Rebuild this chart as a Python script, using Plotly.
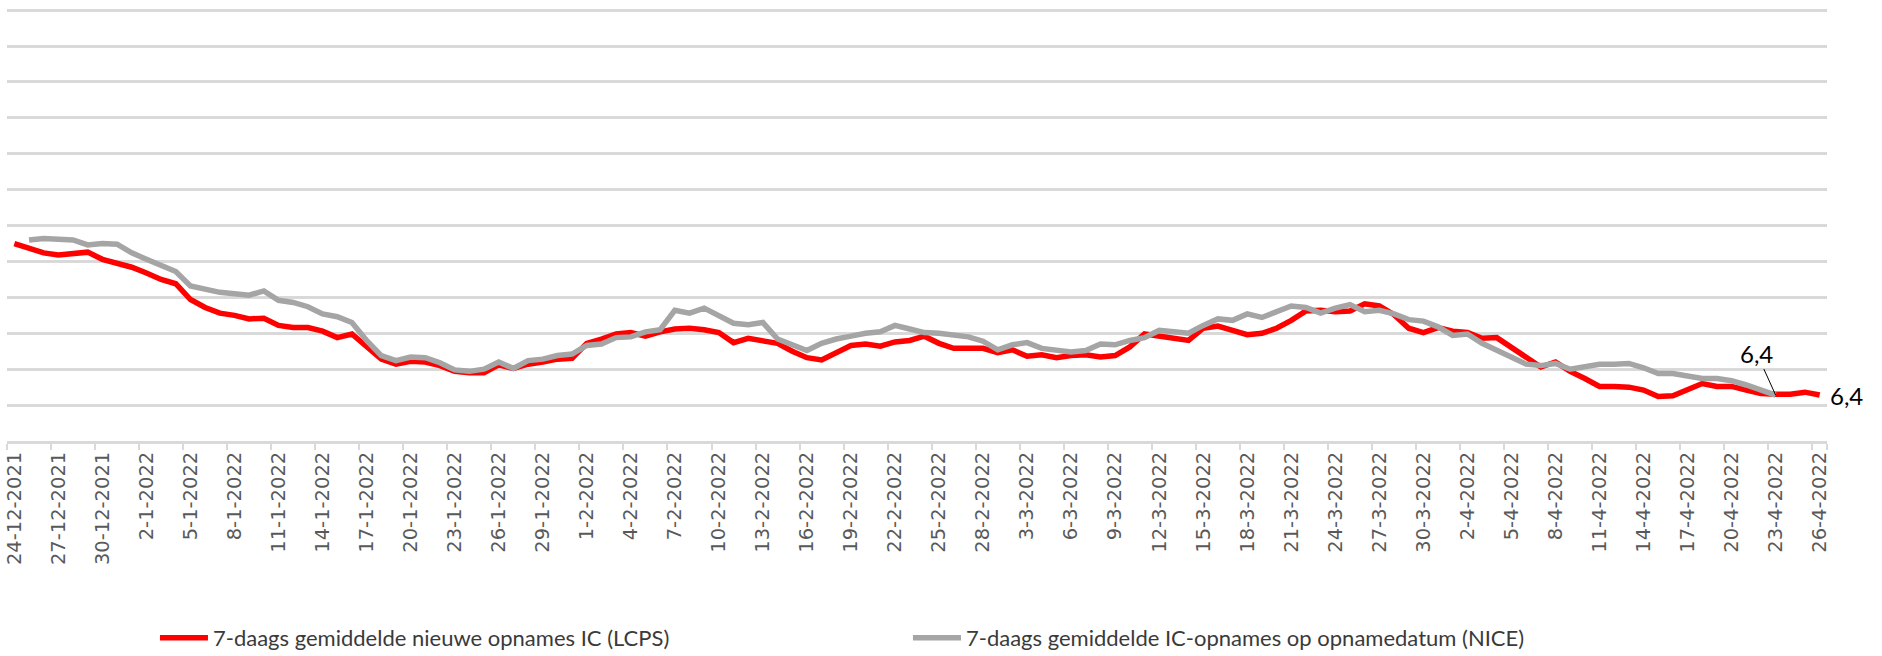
import pandas as pd
import plotly.graph_objects as go

# Categories: one per day, 24-12-2021 .. 26-4-2022
dates = pd.date_range("2021-12-24", "2022-04-26", freq="D")
day_labels = [f"{d.day}-{d.month}-{d.year}" for d in dates]
tick_labels = day_labels[::3]

# 7-daags gemiddelde nieuwe opnames IC (LCPS)
lcps = [
    27.5, 26.8, 26.2, 25.9, 26.1, 26.3, 25.3, 24.8, 24.2, 23.4,
    22.5, 21.9, 19.7, 18.6, 17.8, 17.5, 17.0, 17.1, 16.1, 15.8,
    15.8, 15.3, 14.4, 14.9, 13.2, 11.4, 10.7, 11.1, 11.0, 10.5,
    9.7, 9.5, 9.5, 10.6, 10.1, 10.7, 11.0, 11.4, 11.5, 13.6,
    14.2, 14.9, 15.1, 14.6, 15.2, 15.6, 15.7, 15.5, 15.1, 13.7,
    14.3, 14.0, 13.6, 12.5, 11.6, 11.3, 12.4, 13.3, 13.5, 13.2,
    13.8, 14.0, 14.6, 13.6, 12.9, 12.9, 12.9, 12.3, 12.7, 11.8,
    12.0, 11.6, 11.9, 12.0, 11.7, 11.9, 13.1, 14.9, 14.6, 14.4,
    14.0, 15.7, 16.0, 15.4, 14.8, 15.0, 15.7, 16.8, 18.1, 18.2,
    18.0, 18.1, 19.1, 18.8, 17.6, 15.7, 15.1, 15.8, 15.3, 15.1,
    14.3, 14.4, 13.0, 11.7, 10.3, 11.0, 9.7, 8.7, 7.6, 7.6,
    7.5, 7.1, 6.2, 6.3, 7.2, 8.0, 7.6, 7.6, 7.1, 6.6,
    6.5, 6.5, 6.8, 6.4,
]

# 7-daags gemiddelde IC-opnames op opnamedatum (NICE)
nice = [
    None, 28.0, 28.2, 28.1, 28.0, 27.3, 27.5, 27.4, 26.2, 25.3,
    24.5, 23.6, 21.6, 21.1, 20.7, 20.5, 20.3, 20.9, 19.6, 19.3,
    18.7, 17.7, 17.3, 16.5, 14.0, 11.9, 11.2, 11.7, 11.6, 10.9,
    9.9, 9.7, 10.0, 11.0, 10.1, 11.2, 11.4, 11.9, 12.1, 13.3,
    13.5, 14.4, 14.5, 15.2, 15.5, 18.2, 17.8, 18.5, 17.5, 16.4,
    16.2, 16.5, 14.2, 13.3, 12.6, 13.6, 14.2, 14.6, 15.0, 15.2,
    16.1, 15.6, 15.1, 15.0, 14.8, 14.5, 13.9, 12.7, 13.4, 13.7,
    12.9, 12.7, 12.4, 12.6, 13.5, 13.4, 14.0, 14.4, 15.4, 15.2,
    15.0, 16.1, 17.0, 16.8, 17.7, 17.2, 17.9, 18.8, 18.6, 17.8,
    18.5, 19.0, 18.0, 18.2, 17.7, 16.9, 16.7, 15.9, 14.7, 14.9,
    13.6, 12.7, 11.7, 10.7, 10.5, 10.8, 10.0, 10.3, 10.7, 10.7,
    10.8, 10.2, 9.4, 9.4, 9.0, 8.7, 8.7, 8.4, 7.8, 7.1,
    6.4, None, None, None,
]

names = [
    "7-daags gemiddelde nieuwe opnames IC (LCPS)",
    "7-daags gemiddelde IC-opnames op opnamedatum (NICE)",
]
label_font = "Lato, 'Open Sans', sans-serif"
grid_col = "#D9D9D9"

fig = go.Figure()
fig.add_trace(go.Scatter(
    x=day_labels, y=lcps, mode="lines", name=names[0],
    line=dict(color="#FF0000", width=5.5), connectgaps=False,
))
fig.add_trace(go.Scatter(
    x=day_labels, y=nice, mode="lines", name=names[1],
    line=dict(color="#A5A5A5", width=5.5), connectgaps=False,
))

# labels at the ends
last_nice_idx = max(i for i, v in enumerate(nice) if v is not None)
fig.add_annotation(
    x=day_labels[last_nice_idx], y=nice[last_nice_idx],
    text=f"{nice[last_nice_idx]:.1f}".replace(".", ","),
    showarrow=True, arrowhead=0, arrowwidth=1, arrowcolor="#000000",
    ax=-19, ay=-42, standoff=0,
    font=dict(family=label_font, size=24, color="#000000"),
)
fig.add_annotation(
    x=day_labels[-1], y=lcps[-1],
    text=f"{lcps[-1]:.1f}".replace(".", ","),
    showarrow=False, xanchor="left", yanchor="middle", xshift=8,
    font=dict(family=label_font, size=24, color="#000000"),
)

fig.update_layout(
    width=1882, height=656,
    margin=dict(l=7, r=55, t=8, b=214.5, autoexpand=False),
    paper_bgcolor="white", plot_bgcolor="white",
    showlegend=True,
    legend=dict(
        orientation="h", x=0.0813, xanchor="left", y=-0.455, yanchor="middle",
        font=dict(family=label_font, size=22, color="#3A3A3A"),
        entrywidth=690, entrywidthmode="pixels", itemwidth=48,
        bgcolor="rgba(0,0,0,0)", borderwidth=0,
    ),
    xaxis=dict(
        type="category", range=[-0.5, len(day_labels) - 0.5],
        tickmode="array", tickvals=tick_labels, ticktext=tick_labels,
        tickson="boundaries", ticks="outside", ticklen=6, tickwidth=1.5,
        tickcolor=grid_col, tickangle=-90, automargin=False,
        tickfont=dict(family="DejaVu Sans", size=19.5, color="#595959"),
        showgrid=False, showline=True, linecolor=grid_col, linewidth=3,
        zeroline=False, fixedrange=True,
    ),
    yaxis=dict(
        range=[0, 60.3], dtick=5, tick0=0, showticklabels=False,
        showgrid=True, gridcolor=grid_col, gridwidth=3, automargin=False,
        zeroline=False, showline=False, ticks="", fixedrange=True,
    ),
)

fig.write_html(
    "out.html",
    config={"displayModeBar": False},
    post_script="document.body.style.margin='0';",
)
